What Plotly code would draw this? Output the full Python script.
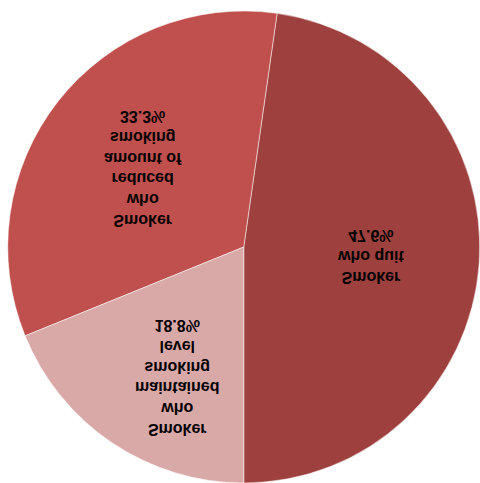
import math
import plotly.graph_objects as go

# Data
labels = ["Smoker<br>who quit",
          "Smoker<br>who<br>reduced<br>amount of<br>smoking",
          "Smoker<br>who<br>maintained<br>smoking<br>level"]
values = [47.6, 33.3, 18.8]
colors = ["#9E403E", "#C0504D", "#D9A9A8"]

W, H = 480, 483
dom_x = [7.5 / W, 1.0]
dom_y = [11 / H, 1.0]

fig = go.Figure(go.Pie(
    labels=labels,
    values=values,
    sort=False,
    direction="clockwise",
    rotation=0,
    marker=dict(colors=colors, line=dict(color="rgba(255,255,255,0.5)", width=1)),
    textinfo="none",
    hoverinfo="skip",
    showlegend=False,
    domain=dict(x=dom_x, y=dom_y),
))

# Label placement (style): radial fraction and angular nudge per slice
label_r = [0.54, 0.54, 0.62]
label_dtheta = [0, 0, 7]

px_w = (dom_x[1] - dom_x[0]) * W
px_h = (dom_y[1] - dom_y[0]) * H
R = min(px_w, px_h) / 2
cx = dom_x[0] * W + px_w / 2
cy = (1 - dom_y[1]) * H + px_h / 2  # pixel from top

total = sum(values)
cum = 0.0
annotations = []
for lab, v, rf, dth in zip(labels, values, label_r, label_dtheta):
    mid = (cum + v / 2) / total * 360 + dth
    cum += v
    t = math.radians(mid)
    x = cx + rf * R * math.sin(t)
    y = cy - rf * R * math.cos(t)
    annotations.append(dict(
        x=x / W, y=1 - y / H, xref="paper", yref="paper",
        text=f"<b>{lab}<br>{v:.1f}%</b>",
        showarrow=False, xanchor="center", yanchor="middle",
        font=dict(family="Liberation Sans, Arial, sans-serif", size=16, color="black"),
    ))

fig.update_layout(
    width=W, height=H,
    margin=dict(l=0, r=0, t=0, b=0),
    paper_bgcolor="white",
    plot_bgcolor="white",
    annotations=annotations,
)

# The reference image is mirrored top-to-bottom; reproduce that orientation.
fig.write_html(
    "out.html",
    post_script="document.getElementById('{plot_id}').style.transform='scaleY(-1)';",
)
